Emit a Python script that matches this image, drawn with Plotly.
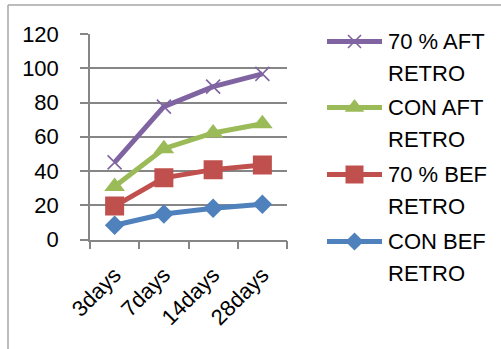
import plotly.graph_objects as go

# Curing periods and the four measured series
categories = ["3days", "7days", "14days", "28days"]
con_bef_retro = [8.3, 14.9, 18.2, 20.6]
pct70_bef_retro = [19.5, 36.0, 40.8, 43.5]
con_aft_retro = [31.0, 53.0, 62.2, 67.6]
pct70_aft_retro = [45.0, 77.6, 89.3, 96.7]

series_names = ["CON BEF RETRO", "70 % BEF RETRO", "CON AFT RETRO", "70 % AFT RETRO"]
series_values = [con_bef_retro, pct70_bef_retro, con_aft_retro, pct70_aft_retro]
series_colors = ["#4F81BD", "#C0504D", "#9BBB59", "#8064A2"]
series_symbols = ["diamond", "square", "triangle-up", "x-thin-open"]
series_sizes = [15, 19, 18, 14]

y_ticks = [0, 20, 40, 60, 80, 100, 120]

W, H = 501, 349
FONT = "Liberation Sans"
GRID = "#868686"

# plot area in pixels
PX0, PX1 = 90, 287
PY_TOP, PY_BOT = 34, 239.5

fig = go.Figure()

for name, vals, col, sym, size in zip(series_names, series_values, series_colors,
                                      series_symbols, series_sizes):
    mk = dict(symbol=sym, size=size, color=col)
    if sym == "x-thin-open":
        mk["line"] = dict(color=col, width=1.6)
    fig.add_trace(go.Scatter(
        x=categories, y=vals, name=name, mode="lines+markers",
        line=dict(color=col, width=5), marker=mk,
        xaxis="x", yaxis="y", showlegend=False,
    ))

# hand-laid legend on a pixel-space overlay axis (top entry = last series)
leg_y = [241.5, 174.5, 107.5, 41.5]
for name, col, sym, size, ly in zip(series_names, series_colors, series_symbols,
                                    series_sizes, leg_y):
    mk = dict(symbol=sym, size=size - 1, color=col)
    if sym == "x-thin-open":
        mk["line"] = dict(color=col, width=1.6)
    fig.add_trace(go.Scatter(
        x=[327, 354.5, 382], y=[ly, ly, ly], mode="lines",
        line=dict(color=col, width=5), xaxis="x2", yaxis="y2",
        showlegend=False, hoverinfo="skip",
    ))
    fig.add_trace(go.Scatter(
        x=[354.5], y=[ly], mode="markers", marker=mk,
        xaxis="x2", yaxis="y2", showlegend=False, hoverinfo="skip",
    ))
    first, second = name.rsplit(" ", 1)
    for txt, ty in ((first, ly - 0.5), (second, ly + 31.5)):
        fig.add_annotation(
            x=386, y=ty, xref="x2", yref="y2", text=txt, showarrow=False,
            xanchor="left", yanchor="middle",
            font=dict(family=FONT, size=22, color="#000000"),
        )

# chart frame (top and left edges visible)
frame = dict(color="#A6A6A6", width=1.5)
fig.add_shape(type="line", xref="x2", yref="y2", x0=8, y0=5, x1=W + 5, y1=5, line=frame)
fig.add_shape(type="line", xref="x2", yref="y2", x0=8, y0=5, x1=8, y1=H + 5, line=frame)

fig.update_layout(
    width=W, height=H,
    margin=dict(l=0, r=0, t=0, b=0),
    paper_bgcolor="white", plot_bgcolor="rgba(0,0,0,0)",
    font=dict(family=FONT, size=22, color="#000000"),
    xaxis=dict(
        domain=[PX0 / W, PX1 / W], type="category", range=[-0.5, 3.5],
        tickson="boundaries", ticks="outside", ticklen=8, tickcolor=GRID, tickwidth=1.5,
        showline=True, linecolor=GRID, linewidth=1.5, showgrid=False,
        tickangle=-45, tickfont=dict(family=FONT, size=22, color="#000000"),
        ticklabelstandoff=12, automargin=False, zeroline=False,
    ),
    yaxis=dict(
        domain=[(H - PY_BOT) / H, (H - PY_TOP) / H], range=[0, 120],
        tickvals=y_ticks, ticks="outside", ticklen=8, tickcolor=GRID, tickwidth=1.5,
        showline=True, linecolor=GRID, linewidth=1.5,
        showgrid=True, gridcolor=GRID, gridwidth=1.5, zeroline=False,
        tickfont=dict(family=FONT, size=22, color="#000000"),
        ticklabelstandoff=17, automargin=False,
    ),
    xaxis2=dict(domain=[0, 1], range=[0, W], visible=False, fixedrange=True),
    yaxis2=dict(domain=[0, 1], range=[H, 0], visible=False, fixedrange=True,
                anchor="x2"),
)

fig.write_html("out.html")
